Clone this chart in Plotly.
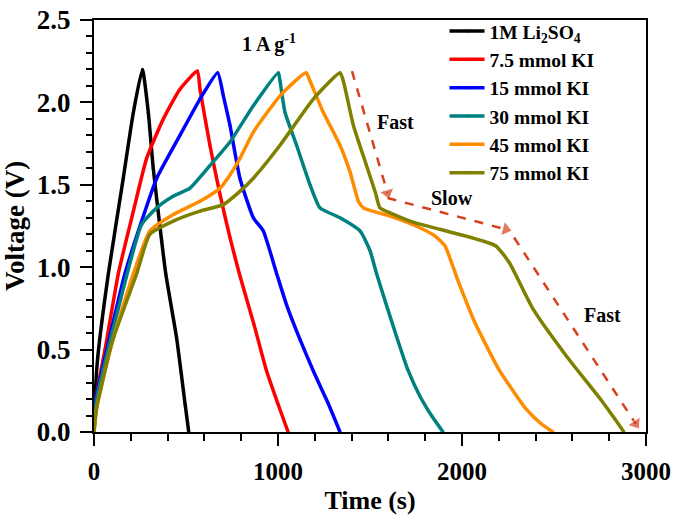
import plotly.graph_objects as go

FONT = "Liberation Serif"

names = ["1M Li<sub>2</sub>SO<sub>4</sub>", "7.5 mmol KI", "15 mmol KI",
         "30 mmol KI", "45 mmol KI", "75 mmol KI"]
colors = ["#000000", "#ff0000", "#0000ff", "#008080", "#ff8c00", "#808000"]

# Time (s) and voltage (V) for each galvanostatic charge/discharge curve
t_li2so4 = [0, 8, 20, 78, 159, 214, 263, 295, 322, 359, 390, 449, 495, 515]
v_li2so4 = [0, 0.25, 0.45, 0.96, 1.54, 1.94, 2.20, 1.94, 1.60, 1.24, 0.96, 0.57, 0.17, 0]

t_ki75 = [0, 10, 60, 132, 214, 286, 377, 467, 562, 576, 630, 685, 739, 790, 870, 938, 1000, 1055]
v_ki75 = [0, 0.2, 0.5, 0.96, 1.34, 1.66, 1.90, 2.08, 2.19, 2.08, 1.74, 1.44, 1.18, 0.96, 0.65, 0.37, 0.17, 0]

t_ki15 = [0, 10, 80, 168, 259, 341, 467, 576, 672, 703, 739, 793, 866, 920, 993, 1047, 1120, 1192, 1270, 1337]
v_ki15 = [0, 0.2, 0.55, 0.96, 1.28, 1.54, 1.80, 2.02, 2.18, 2.04, 1.86, 1.54, 1.30, 1.22, 0.96, 0.77, 0.56, 0.37, 0.18, 0]

t_ki30 = [0, 15, 130, 259, 341, 430, 522, 648, 739, 866, 1002, 1011, 1038, 1101, 1174, 1228,
          1337, 1446, 1500, 1536, 1595, 1650, 1705, 1770, 1834, 1897]
v_ki30 = [0, 0.2, 0.74, 1.26, 1.36, 1.43, 1.48, 1.64, 1.76, 1.98, 2.18, 2.13, 1.94, 1.74, 1.50, 1.36,
          1.30, 1.22, 1.10, 0.96, 0.75, 0.56, 0.38, 0.22, 0.10, 0]

t_ki45 = [0, 15, 100, 214, 304, 431, 576, 685, 739, 793, 866, 1011, 1152, 1174, 1246, 1337,
          1391, 1437, 1464, 1609, 1750, 1852, 1907, 1981, 2072, 2200, 2348, 2430, 2495]
v_ki45 = [0, 0.15, 0.55, 0.96, 1.22, 1.32, 1.40, 1.48, 1.56, 1.66, 1.82, 2.04, 2.18, 2.13, 1.94, 1.74,
          1.58, 1.40, 1.36, 1.31, 1.25, 1.19, 1.13, 0.91, 0.66, 0.38, 0.14, 0.05, 0]

t_ki75b = [0, 15, 100, 232, 304, 431, 576, 703, 793, 866, 1011, 1192, 1337, 1355, 1410, 1480,
           1530, 1554, 1609, 1742, 1880, 2017, 2182, 2256, 2384, 2568, 2752, 2830, 2880]
v_ki75b = [0, 0.15, 0.55, 0.96, 1.20, 1.28, 1.34, 1.38, 1.46, 1.54, 1.74, 2.02, 2.18, 2.13, 1.86, 1.62,
           1.45, 1.36, 1.33, 1.27, 1.23, 1.19, 1.13, 1.03, 0.75, 0.46, 0.20, 0.08, 0]

series_t = [t_li2so4, t_ki75, t_ki15, t_ki30, t_ki45, t_ki75b]
series_v = [v_li2so4, v_ki75, v_ki15, v_ki30, v_ki45, v_ki75b]

# Dashed guide arrows (Fast / Slow / Fast)
arrow_t = [[1402, 1595], [1595, 2238], [2283, 2944]]
arrow_v = [[2.19, 1.45], [1.42, 1.23], [1.18, 0.05]]
ARROW_COLOR = "#d8401c"

x_ticks = [0, 1000, 2000, 3000]
y_ticks = [0, 0.5, 1.0, 1.5, 2.0, 2.5]

fig = go.Figure()
for name, col, t, v in zip(names, colors, series_t, series_v):
    fig.add_trace(go.Scatter(x=t, y=v, name="<b>" + name + "</b>", mode="lines+markers",
                             line=dict(color=col, width=3.5, shape="spline", smoothing=0.5),
                             marker=dict(color=col, size=3)))

for at, av in zip(arrow_t, arrow_v):
    fig.add_trace(go.Scatter(x=at, y=av, mode="lines+markers", showlegend=False,
                             line=dict(color=ARROW_COLOR, width=2.5, dash="dash"),
                             marker=dict(symbol="triangle-up", angleref="previous",
                                         size=[0, 13], color=ARROW_COLOR),
                             hoverinfo="skip"))

ann_font = dict(family=FONT, size=20, color="black")
fig.add_annotation(x=950, y=2.36, text="<b>1 A g<sup>-1</sup></b>", showarrow=False, font=ann_font)
fig.add_annotation(x=1641, y=1.88, text="<b>Fast</b>", showarrow=False, font=ann_font)
fig.add_annotation(x=1943, y=1.42, text="<b>Slow</b>", showarrow=False, font=ann_font)
fig.add_annotation(x=2761, y=0.71, text="<b>Fast</b>", showarrow=False, font=ann_font)

axis_common = dict(showline=True, linecolor="black", linewidth=2, mirror=True,
                   ticks="outside", ticklen=12, tickwidth=2, tickcolor="black",
                   showgrid=False, zeroline=False, automargin=False)

fig.update_xaxes(range=[0, 3000], tickvals=x_ticks,
                 ticktext=["<b>%d</b>" % v for v in x_ticks],
                 tickfont=dict(family=FONT, size=25, color="black"),
                 minor=dict(dtick=200, ticklen=7, tickwidth=2, tickcolor="black", ticks="outside"),
                 title=dict(text="<b>Time (s)</b>", font=dict(family=FONT, size=26, color="black")),
                 ticklabelstandoff=4,
                 **axis_common)
fig.update_yaxes(range=[0, 2.5], tickvals=y_ticks,
                 ticktext=["<b>%.1f</b>" % v for v in y_ticks],
                 tickfont=dict(family=FONT, size=27, color="black"),
                 minor=dict(dtick=0.1, ticklen=6, tickwidth=2, tickcolor="black", ticks="outside"),
                 title=dict(text="<b>Voltage (V)</b>", font=dict(family=FONT, size=27, color="black")),
                 ticklabelstandoff=4,
                 **axis_common)

fig.update_layout(
    width=675, height=515,
    margin=dict(l=94, r=29, t=13, b=83),
    paper_bgcolor="white", plot_bgcolor="white",
    font=dict(family=FONT, color="black"),
    legend=dict(x=0.635, y=1.02, xanchor="left", yanchor="top",
                bgcolor="rgba(0,0,0,0)", borderwidth=0,
                font=dict(family=FONT, size=19.5, color="black"),
                itemwidth=35, tracegroupgap=0),
)

fig.write_html("out.html", config={"displayModeBar": False},
               post_script="document.body.style.margin='0';")
